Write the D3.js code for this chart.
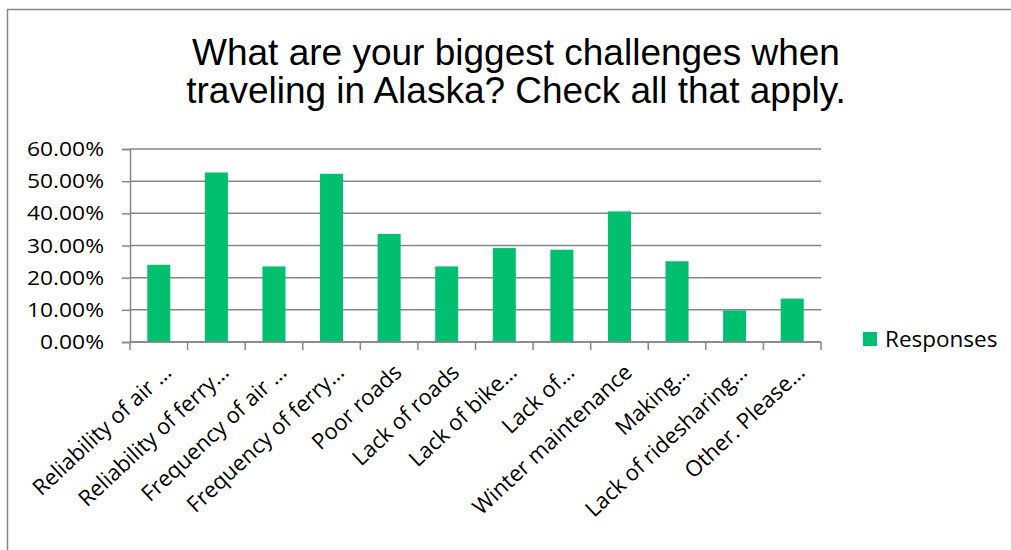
<!DOCTYPE html>
<html>
<head>
<meta charset="utf-8">
<script src="https://cdn.jsdelivr.net/npm/d3@7"></script>
<style>
  html, body { margin: 0; padding: 0; background: #fff; }
  svg { display: block; }
</style>
</head>
<body>
<svg id="chart" width="1011" height="550"></svg>
<script>
// Survey question and answer shares
const titleLines = ["What are your biggest challenges when", "traveling in Alaska? Check all that apply."];
const categories = [
  "Reliability of air …",
  "Reliability of ferry…",
  "Frequency of air …",
  "Frequency of ferry…",
  "Poor roads",
  "Lack of roads",
  "Lack of bike…",
  "Lack of…",
  "Winter maintenance",
  "Making…",
  "Lack of ridesharing…",
  "Other. Please…"
];
const responses = [24.0, 52.7, 23.5, 52.3, 33.6, 23.5, 29.2, 28.7, 40.6, 25.1, 9.8, 13.5];
const yTicks = [0, 10, 20, 30, 40, 50, 60];
const seriesName = "Responses";

const svg = d3.select("#chart");
const W = 1011, H = 550;
const plot = { left: 130, right: 821, top: 149, bottom: 342 };
const gridColor = "#868686";
const barColor = "#00BF6F";
const labelFont = "'Open Sans', 'DejaVu Sans', sans-serif";

// Outer chart frame (top and left edges visible)
svg.append("path")
  .attr("d", `M7.5,${H} V9.5 H${W}`)
  .attr("fill", "none")
  .attr("stroke", gridColor)
  .attr("stroke-width", 1.5);

// Title
const title = svg.append("text")
  .attr("text-anchor", "middle")
  .attr("font-family", "'Liberation Sans', Arial, sans-serif")
  .attr("font-size", 37)
  .attr("fill", "#000");
titleLines.forEach((t, i) => {
  title.append("tspan").attr("x", 516).attr("y", 65 + i * 38).text(t);
});

const x = d3.scaleBand()
  .domain(categories)
  .range([plot.left, plot.right])
  .paddingInner(0.6)
  .paddingOuter(0.3);

const xEdges = d3.scaleLinear()
  .domain([0, categories.length])
  .range([plot.left, plot.right]);

const y = d3.scaleLinear()
  .domain([0, 60])
  .range([plot.bottom, plot.top]);

// Horizontal gridlines
svg.append("g")
  .selectAll("line")
  .data(yTicks)
  .join("line")
  .attr("x1", plot.left)
  .attr("x2", plot.right)
  .attr("y1", d => y(d))
  .attr("y2", d => y(d))
  .attr("stroke", gridColor)
  .attr("stroke-width", 1.5);

// Y axis
const yAxis = svg.append("g")
  .attr("transform", `translate(${plot.left},0)`)
  .call(d3.axisLeft(y)
    .tickValues(yTicks)
    .tickSize(8)
    .tickPadding(18)
    .tickFormat(d => d.toFixed(2) + "%"));
yAxis.select(".domain").attr("stroke", gridColor).attr("stroke-width", 1.5);
yAxis.selectAll(".tick line").attr("stroke", gridColor).attr("stroke-width", 1.5);
yAxis.selectAll(".tick text")
  .attr("font-family", labelFont)
  .attr("font-size", 20.5)
  .attr("textLength", d => d >= 10 ? 77 : 64)
  .attr("lengthAdjust", "spacingAndGlyphs")
  .attr("fill", "#000");

// Bars
svg.append("g")
  .selectAll("rect")
  .data(responses)
  .join("rect")
  .attr("x", (d, i) => x(categories[i]))
  .attr("y", d => y(d))
  .attr("width", x.bandwidth())
  .attr("height", d => y(0) - y(d))
  .attr("fill", barColor);

// X axis line and tick marks at category boundaries
svg.append("line")
  .attr("x1", plot.left).attr("x2", plot.right)
  .attr("y1", plot.bottom).attr("y2", plot.bottom)
  .attr("stroke", gridColor).attr("stroke-width", 1.5);
svg.append("g")
  .selectAll("line")
  .data(d3.range(categories.length + 1))
  .join("line")
  .attr("x1", d => xEdges(d))
  .attr("x2", d => xEdges(d))
  .attr("y1", plot.bottom)
  .attr("y2", plot.bottom + 8)
  .attr("stroke", gridColor)
  .attr("stroke-width", 1.5);

// Rotated category labels
svg.append("g")
  .selectAll("text")
  .data(categories)
  .join("text")
  .attr("text-anchor", "end")
  .attr("font-family", labelFont)
  .attr("font-size", 22)
  .attr("fill", "#000")
  .attr("transform", d => `translate(${x(d) + x.bandwidth() / 2 + 14},${plot.bottom + 32}) rotate(-43)`)
  .text(d => d);

// Legend
const legend = svg.append("g").attr("transform", "translate(863,332)");
legend.append("rect").attr("width", 14).attr("height", 14).attr("fill", barColor);
legend.append("text")
  .attr("x", 22)
  .attr("y", 15)
  .attr("font-family", labelFont)
  .attr("font-size", 22.5)
  .attr("fill", "#000")
  .text(seriesName);
</script>
</body>
</html>
